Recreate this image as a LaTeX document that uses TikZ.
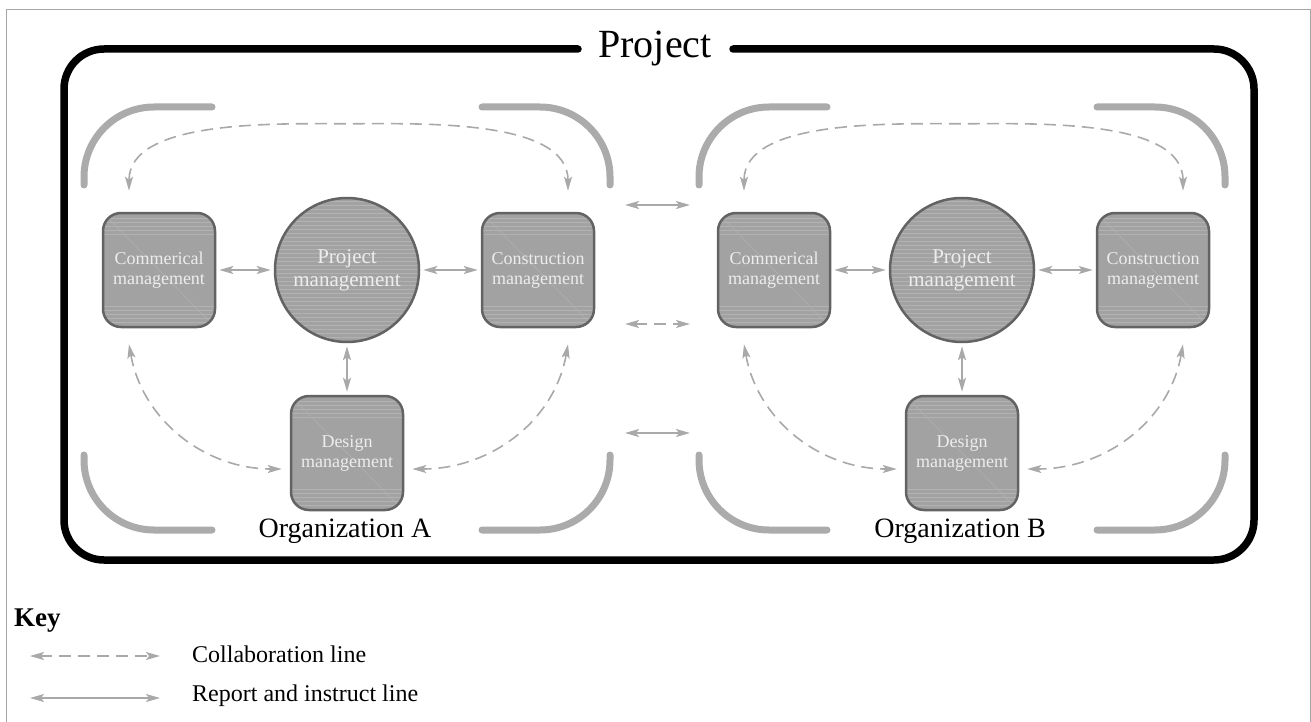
\documentclass[tikz,border=0pt]{standalone}
\usepackage{fontspec}
\setmainfont{Liberation Serif}
\usetikzlibrary{arrows.meta,calc}

\definecolor{boxfill}{HTML}{A2A2A2}
\definecolor{boxline}{HTML}{636363}
\definecolor{linkgray}{HTML}{A9A9A9}
\definecolor{bracketgray}{HTML}{ABABAB}
\definecolor{grainclr}{HTML}{B2B2B2}

\tikzset{
  grainline/.style={draw=grainclr, line width=0.8pt},
  mgmt/.style={draw=boxline, line width=2.5pt, fill=boxfill, rounded corners=18pt,
    minimum width=112pt, minimum height=114pt, inner sep=0pt, align=center,
    text=white!93!black, font=\fontsize{18}{20}\selectfont,
    path picture={
      \foreach \g in {5,9,...,21} {
        \draw[grainline] ($(path picture bounding box.north west)+(0,\g)$) -- ++(130,0);
        \draw[grainline] ($(path picture bounding box.south west)+(0,-\g)$) -- ++(130,0);
      }
      \draw[grainline, line width=0.5pt] (path picture bounding box.north west) -- (path picture bounding box.south east);
    }},
  pmnode/.style={circle, draw=boxline, line width=2.5pt, fill=boxfill,
    minimum size=144pt, inner sep=0pt, align=center,
    text=white!93!black, font=\fontsize{21}{23}\selectfont,
    path picture={
      \foreach \g in {3,7,...,146}
        \draw[grainline, line width=0.6pt] ($(path picture bounding box.north west)+(0,\g)$) -- ++(150,0);
    }},
  link/.style={draw=linkgray, line width=1.6pt, <->,
    >={Stealth[length=14pt,width=8pt,inset=3pt]}},
  report/.style={link, shorten <=3pt, shorten >=3pt},
  collab/.style={link, dash pattern=on 12pt off 7pt},
  bracket/.style={draw=bracketgray, line width=7pt, line cap=round, rounded corners=70pt},
  projframe/.style={line width=7.5pt, line cap=round, rounded corners=40pt},
  orglabel/.style={font=\fontsize{28}{30}\selectfont, inner sep=0pt},
  keytext/.style={font=\fontsize{24}{26}\selectfont, inner sep=0pt, anchor=west}
}

\begin{document}
\begin{tikzpicture}[x=1pt,y=-1pt]
\useasboundingbox (0,0) rectangle (1311,722);
\draw[gray!70, line width=1pt] (6.5,722) -- (6.5,9.5) -- (1310,9.5) -- (1310,722);

% project frame, broken by its title
\node[font=\fontsize{40}{44}\selectfont, inner sep=0pt, anchor=base] (projlabel) at (655,58) {Project};
\coordinate (frameR) at (733,49);
\coordinate (frameL) at (578,49);
\draw[projframe] (frameR) -| (1254,560) -| (64,49) -- (frameL);

\foreach \org/\cx in {A/347,B/962} {
  \draw[bracket] (\cx-263,185) |- (\cx-135,107);
  \draw[bracket] (\cx+135,107) -| (\cx+263,185);
  \draw[bracket] (\cx-263,455) |- (\cx-135,530);
  \draw[bracket] (\cx+135,530) -| (\cx+263,455);

  \node[pmnode] (pm\org) at (\cx,270) {Project\\management};
  \node[mgmt] (com\org) at (\cx-188,270) {Commerical\\management};
  \node[mgmt] (con\org) at (\cx+191,270) {Construction\\management};
  \node[mgmt] (des\org) at (\cx,453) {Design\\management};
  \node[orglabel] (org\org) at (\cx-2,531) {Organization \org};

  \draw[report] (com\org) -- (pm\org);
  \draw[report] (pm\org) -- (con\org);
  \draw[report] (pm\org) -- (des\org);

  \coordinate (apex\org) at ($(pm\org.north)+(0,-73)$);
  \draw[collab] ([xshift=-30pt,yshift=21pt]com\org.north) to[out=90,in=180,looseness=0.8] (apex\org)
                to[out=0,in=90,looseness=0.8] ([xshift=30pt,yshift=21pt]con\org.north);
  \draw[collab] ([xshift=-30pt,yshift=-16pt]com\org.south) to[out=-80,in=180] ([xshift=-8pt,yshift=-16pt]des\org.west);
  \draw[collab] ([xshift=30pt,yshift=-16pt]con\org.south) to[out=-100,in=0] ([xshift=8pt,yshift=-16pt]des\org.east);
}

% links between the two organizations
\foreach [count=\i] \y/\kind in {205/link,324/collab,433/link} {
  \coordinate (gapL\i) at (625,\y);
  \coordinate (gapR\i) at (690,\y);
  \draw[\kind] (gapL\i) -- (gapR\i);
}

% key
\node[font=\fontsize{27}{29}\bfseries, inner sep=0pt, anchor=base west] (keyhead) at (14,626) {Key};
\coordinate (keyL1) at (30,656);
\coordinate (keyR1) at (160,656);
\coordinate (keyL2) at (30,698);
\coordinate (keyR2) at (160,698);
\draw[collab] (keyL1) -- (keyR1);
\draw[link] (keyL2) -- (keyR2);
\node[keytext] (keycollab) at (192,654) {Collaboration line};
\node[keytext] (keyreport) at (192,696) {Report and instruct line};
\end{tikzpicture}
\end{document}
